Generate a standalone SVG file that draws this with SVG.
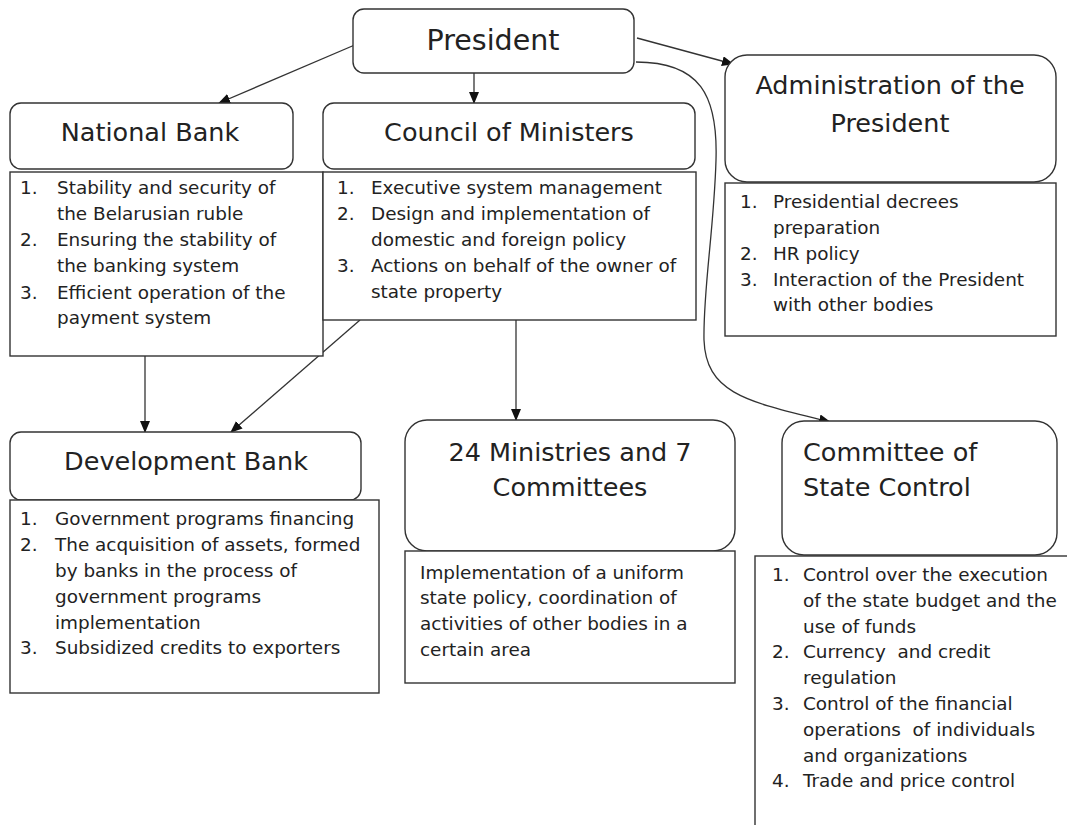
<svg xmlns="http://www.w3.org/2000/svg" width="1067" height="825" viewBox="0 0 1067 825">
<style>
.box{fill:#fff;stroke:#333;stroke-width:1.4}
.t{font-family:"DejaVu Sans",Verdana,sans-serif;font-size:25.5px;fill:#222}
.l{font-family:"DejaVu Sans",Verdana,sans-serif;font-size:18.4px;fill:#222}
.c{stroke:#333;stroke-width:1.3;fill:none;marker-end:url(#ah)}
</style>
<defs>
<marker id="ah" viewBox="0 0 12 10" refX="11" refY="5" markerWidth="12" markerHeight="10" markerUnits="userSpaceOnUse" orient="auto">
<path d="M0,0 L12,5 L0,10 Z" fill="#111"/>
</marker>
</defs>
<rect width="1067" height="825" fill="#fff"/>
<g id="connectors">
<path class="c" d="M357,44 L219,103"/>
<path class="c" d="M474,73 L474,103"/>
<path class="c" d="M637,38 L733,64"/>
<path class="c" d="M636,62 C700,62 718,95 716,160 C714,230 703,290 704,340 C706,395 750,402 830,422"/>
<path class="c" d="M145,356 L145,432"/>
<path class="c" d="M360,320 L231,432"/>
<path class="c" d="M516,320 L516,420"/>
</g>
<g id="president">
<rect class="box" x="353" y="9" width="281" height="64" rx="11"/>
<text class="t" x="493" y="50" text-anchor="middle" style="font-size:28.5px">President</text>
</g>
<g id="national-bank">
<rect class="box" x="10" y="103" width="283" height="66" rx="11"/>
<text class="t" x="150" y="141" text-anchor="middle">National Bank</text>
</g>
<g id="national-bank-functions">
<rect class="box" x="10" y="172" width="313" height="184"/>
<text class="l"><tspan x="20" y="194">1.</tspan><tspan x="57" y="194">Stability and security of</tspan><tspan x="57" y="220">the Belarusian ruble</tspan><tspan x="20" y="246">2.</tspan><tspan x="57" y="246">Ensuring the stability of</tspan><tspan x="57" y="272">the banking system</tspan><tspan x="20" y="299">3.</tspan><tspan x="57" y="299">Efficient operation of the</tspan><tspan x="57" y="324">payment system</tspan></text>
</g>
<g id="council-of-ministers">
<rect class="box" x="323" y="103" width="372" height="66" rx="11"/>
<text class="t" x="509" y="141" text-anchor="middle">Council of Ministers</text>
</g>
<g id="council-functions">
<rect class="box" x="323" y="172" width="373" height="148"/>
<text class="l"><tspan x="337" y="194">1.</tspan><tspan x="371" y="194">Executive system management</tspan><tspan x="337" y="220">2.</tspan><tspan x="371" y="220">Design and implementation of</tspan><tspan x="371" y="246">domestic and foreign policy</tspan><tspan x="337" y="272">3.</tspan><tspan x="371" y="272">Actions on behalf of the owner of</tspan><tspan x="371" y="298">state property</tspan></text>
</g>
<g id="administration">
<rect class="box" x="725" y="55" width="331" height="127" rx="22"/>
<text class="t" x="890" y="94" text-anchor="middle">Administration of the</text>
<text class="t" x="890" y="132" text-anchor="middle">President</text>
</g>
<g id="administration-functions">
<rect class="box" x="725" y="183" width="331" height="153"/>
<text class="l"><tspan x="740" y="208">1.</tspan><tspan x="773" y="208">Presidential decrees</tspan><tspan x="773" y="234">preparation</tspan><tspan x="740" y="260">2.</tspan><tspan x="773" y="260">HR policy</tspan><tspan x="740" y="286">3.</tspan><tspan x="773" y="286">Interaction of the President</tspan><tspan x="773" y="311">with other bodies</tspan></text>
</g>
<g id="development-bank">
<rect class="box" x="10" y="432" width="351" height="68" rx="11"/>
<text class="t" x="186" y="470" text-anchor="middle">Development Bank</text>
</g>
<g id="development-bank-functions">
<rect class="box" x="10" y="500" width="369" height="193"/>
<text class="l"><tspan x="20" y="525">1.</tspan><tspan x="55" y="525">Government programs financing</tspan><tspan x="20" y="551">2.</tspan><tspan x="55" y="551">The acquisition of assets, formed</tspan><tspan x="55" y="577">by banks in the process of</tspan><tspan x="55" y="603">government programs</tspan><tspan x="55" y="629">implementation</tspan><tspan x="20" y="654">3.</tspan><tspan x="55" y="654">Subsidized credits to exporters</tspan></text>
</g>
<g id="ministries">
<rect class="box" x="405" y="420" width="330" height="131" rx="22"/>
<text class="t" x="570" y="461" text-anchor="middle">24 Ministries and 7</text>
<text class="t" x="570" y="496" text-anchor="middle">Committees</text>
</g>
<g id="ministries-functions">
<rect class="box" x="405" y="551" width="330" height="132"/>
<text class="l"><tspan x="420" y="579">Implementation of a uniform</tspan><tspan x="420" y="604">state policy, coordination of</tspan><tspan x="420" y="630">activities of other bodies in a</tspan><tspan x="420" y="656">certain area</tspan></text>
</g>
<g id="state-control">
<rect class="box" x="782" y="421" width="275" height="134" rx="22"/>
<text class="t" x="803" y="461">Committee of</text>
<text class="t" x="803" y="496">State Control</text>
</g>
<g id="state-control-functions">
<rect class="box" x="755" y="556" width="330" height="290"/>
<text class="l" xml:space="preserve"><tspan x="772" y="581">1.</tspan><tspan x="803" y="581">Control over the execution</tspan><tspan x="803" y="607">of the state budget and the</tspan><tspan x="803" y="633">use of funds</tspan><tspan x="772" y="658">2.</tspan><tspan x="803" y="658">Currency  and credit</tspan><tspan x="803" y="684">regulation</tspan><tspan x="772" y="710">3.</tspan><tspan x="803" y="710">Control of the financial</tspan><tspan x="803" y="736">operations  of individuals</tspan><tspan x="803" y="762">and organizations</tspan><tspan x="772" y="787">4.</tspan><tspan x="803" y="787">Trade and price control</tspan></text>
</g>
</svg>
